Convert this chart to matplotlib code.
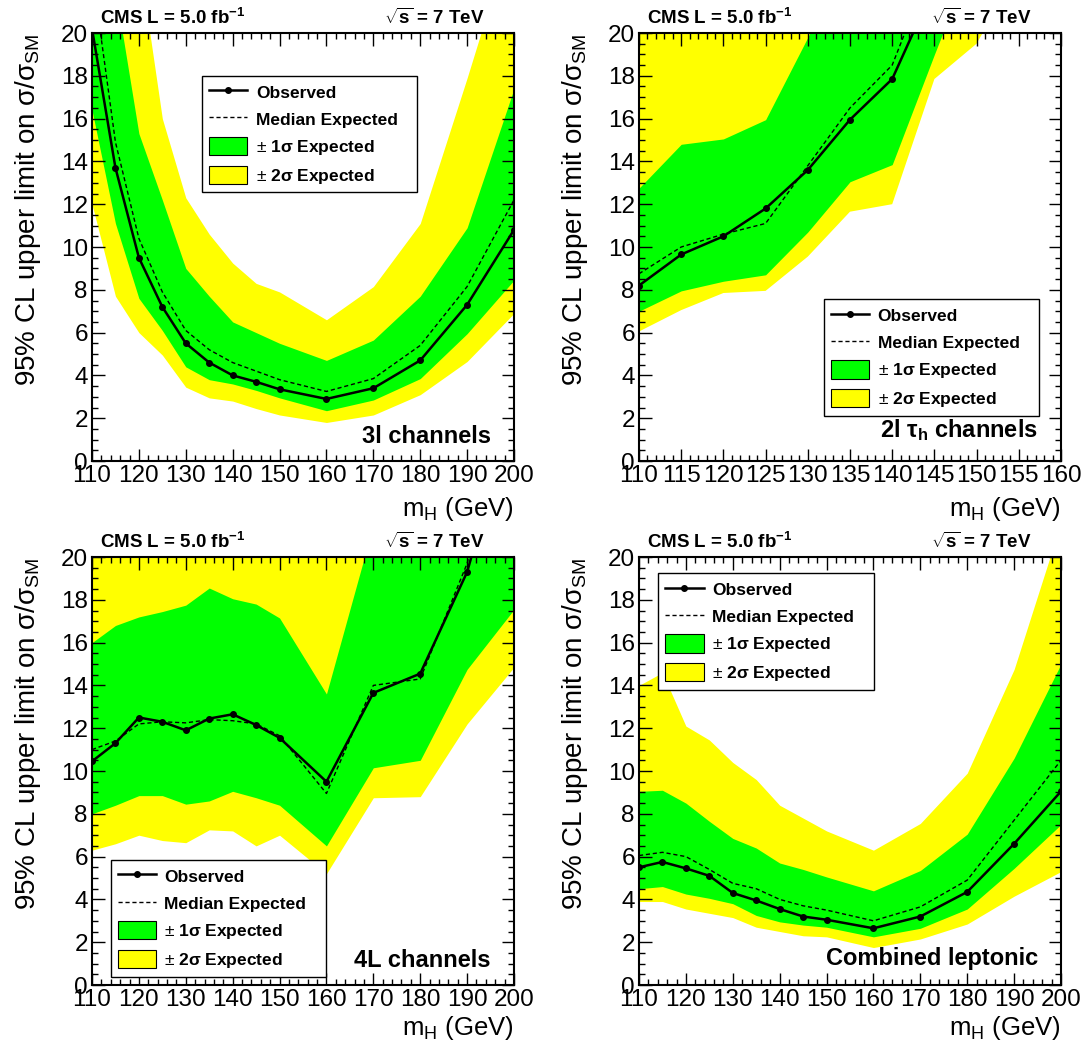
import matplotlib
matplotlib.use("Agg")
import matplotlib.pyplot as plt
from matplotlib.ticker import MultipleLocator
from matplotlib.lines import Line2D
from matplotlib.patches import Patch

plt.rcParams['font.family'] = ['Liberation Sans', 'DejaVu Sans']
plt.rcParams['mathtext.fontset'] = 'custom'
plt.rcParams['mathtext.rm'] = 'Liberation Sans'
plt.rcParams['mathtext.it'] = 'Liberation Sans:italic'
plt.rcParams['mathtext.bf'] = 'Liberation Sans:bold'

# 3l channels
mass_3l = [110, 115, 120, 125, 130, 135, 140, 145, 150, 160, 170, 180, 190, 200]
obs_3l = [20.2, 13.7, 9.5, 7.2, 5.5, 4.6, 4.0, 3.7, 3.35, 2.9, 3.4, 4.7, 7.3, 10.8]
exp_3l = [22.9, 14.9, 10.4, 7.9, 6.1, 5.2, 4.6, 4.2, 3.8, 3.25, 3.85, 5.4, 8.15, 12.2]
g_lo_3l = [16.4, 11.1, 7.6, 6.1, 4.4, 3.8, 3.6, 3.3, 2.95, 2.35, 2.85, 3.85, 5.95, 8.45]
g_hi_3l = [30.0, 22.0, 15.3, 12.2, 9.0, 7.7, 6.5, 6.0, 5.5, 4.7, 5.65, 7.7, 10.9, 17.4]
y_lo_3l = [12.0, 7.7, 6.0, 4.95, 3.45, 2.95, 2.8, 2.45, 2.15, 1.8, 2.15, 3.1, 4.65, 6.9]
y_hi_3l = [34.0, 28.0, 23.5, 16.0, 12.3, 10.6, 9.25, 8.3, 7.9, 6.6, 8.15, 11.1, 17.9, 25.0]

# 2l tau_h channels
mass_2lt = [110, 115, 120, 125, 130, 135, 140, 145, 150, 155, 160]
obs_2lt = [8.2, 9.65, 10.5, 11.8, 13.6, 15.95, 17.85, 22.2, 25.0, 28.0, 31.0]
exp_2lt = [8.75, 10.0, 10.6, 11.1, 13.8, 16.5, 18.5, 23.5, 26.0, 29.0, 32.0]
g_lo_2lt = [7.0, 7.95, 8.4, 8.7, 10.7, 13.05, 13.85, 19.0, 24.0, 27.0, 30.0]
g_hi_2lt = [12.75, 14.8, 15.05, 15.95, 19.8, 24.0, 27.0, 32.0, 36.0, 40.0, 44.0]
y_lo_2lt = [6.05, 7.05, 7.85, 7.95, 9.55, 11.65, 12.0, 17.85, 19.5, 23.0, 27.0]
y_hi_2lt = [24.0, 25.0, 26.0, 27.0, 29.0, 32.0, 36.0, 42.0, 48.0, 54.0, 60.0]

# 4L channels
mass_4l = [110, 115, 120, 125, 130, 135, 140, 145, 150, 160, 170, 180, 190, 200]
obs_4l = [10.45, 11.3, 12.5, 12.3, 11.9, 12.45, 12.65, 12.15, 11.55, 9.5, 13.65, 14.55, 19.3, 27.0]
exp_4l = [11.0, 11.4, 12.2, 12.3, 12.25, 12.4, 12.35, 12.2, 11.65, 8.95, 14.0, 14.3, 19.7, 28.0]
g_lo_4l = [8.0, 8.4, 8.85, 8.85, 8.45, 8.6, 9.05, 8.75, 8.4, 6.5, 10.15, 10.5, 14.75, 17.55]
g_hi_4l = [16.0, 16.8, 17.2, 17.45, 17.75, 18.55, 18.05, 17.8, 17.15, 13.6, 21.5, 26.0, 30.0, 34.0]
y_lo_4l = [6.3, 6.6, 7.0, 6.75, 6.65, 7.25, 7.2, 6.5, 7.0, 5.2, 8.75, 8.8, 12.2, 14.85]
y_hi_4l = [25.0, 25.0, 25.0, 25.0, 25.0, 25.0, 25.0, 25.0, 25.0, 25.0, 30.0, 34.0, 38.0, 42.0]

# Combined leptonic
mass_comb = [110, 115, 120, 125, 130, 135, 140, 145, 150, 160, 170, 180, 190, 200]
obs_comb = [5.5, 5.75, 5.45, 5.1, 4.3, 3.95, 3.55, 3.2, 3.05, 2.65, 3.2, 4.35, 6.6, 9.05]
exp_comb = [6.05, 6.2, 6.0, 5.4, 4.75, 4.5, 4.0, 3.7, 3.5, 3.0, 3.65, 4.9, 7.7, 10.5]
g_lo_comb = [4.5, 4.6, 4.25, 4.05, 3.8, 3.25, 2.95, 2.8, 2.7, 2.25, 2.65, 3.55, 5.45, 7.5]
g_hi_comb = [9.05, 9.1, 8.5, 7.65, 6.85, 6.4, 5.7, 5.4, 5.05, 4.4, 5.35, 7.05, 10.6, 15.0]
y_lo_comb = [3.9, 3.9, 3.55, 3.35, 3.15, 2.7, 2.5, 2.3, 2.25, 1.75, 2.15, 2.85, 4.15, 5.3]
y_hi_comb = [14.0, 14.6, 12.1, 11.45, 10.4, 9.6, 8.4, 7.8, 7.2, 6.3, 7.55, 9.9, 14.75, 21.6]

GREEN = '#00ff00'
YELLOW = '#ffff00'

fig = plt.figure(figsize=(10.81, 10.43), dpi=100)

W, H = 1081.0, 1043.0


def make_axes(px_left, px_top):
    return fig.add_axes([px_left / W, 1 - (px_top + 428) / H, 422 / W, 428 / H])


panels = [
    dict(ax=make_axes(92, 33), m=mass_3l, obs=obs_3l, exp=exp_3l, glo=g_lo_3l, ghi=g_hi_3l,
         ylo=y_lo_3l, yhi=y_hi_3l, xr=(110, 200), maj=10, mnr=2, xl_y=-0.080,
         leg=(0.261, 0.900), label='3l channels', lab_y=0.042),
    dict(ax=make_axes(639, 33), m=mass_2lt, obs=obs_2lt, exp=exp_2lt, glo=g_lo_2lt, ghi=g_hi_2lt,
         ylo=y_lo_2lt, yhi=y_hi_2lt, xr=(110, 160), maj=5, mnr=1, xl_y=-0.080,
         leg=(0.438, 0.378), label=r'2l $\mathbf{\tau_h}$ channels', lab_y=0.055),
    dict(ax=make_axes(92, 557), m=mass_4l, obs=obs_4l, exp=exp_4l, glo=g_lo_4l, ghi=g_hi_4l,
         ylo=y_lo_4l, yhi=y_hi_4l, xr=(110, 200), maj=10, mnr=2, xl_y=-0.068,
         leg=(0.044, 0.292), label='4L channels', lab_y=0.043),
    dict(ax=make_axes(639, 557), m=mass_comb, obs=obs_comb, exp=exp_comb, glo=g_lo_comb, ghi=g_hi_comb,
         ylo=y_lo_comb, yhi=y_hi_comb, xr=(110, 200), maj=10, mnr=2, xl_y=-0.068,
         leg=(0.046, 0.962), label='Combined leptonic', lab_y=0.047),
]

handles = [
    Line2D([], [], color='black', lw=1.8, marker='o', markersize=4),
    Line2D([], [], color='black', lw=1.0, dashes=(3, 2)),
    Patch(facecolor=GREEN, edgecolor='black', lw=0.8),
    Patch(facecolor=YELLOW, edgecolor='black', lw=0.8),
]
labels = ['Observed', 'Median Expected', r'$\pm$ 1σ Expected', r'$\pm$ 2σ Expected']

for p in panels:
    ax = p['ax']
    ax.fill_between(p['m'], p['ylo'], p['yhi'], color=YELLOW, lw=0)
    ax.fill_between(p['m'], p['glo'], p['ghi'], color=GREEN, lw=0)
    ax.plot(p['m'], p['exp'], color='black', lw=1.0, dashes=(3, 2))
    ax.plot(p['m'], p['obs'], color='black', lw=1.8, marker='o', markersize=4)

    ax.set_xlim(*p['xr'])
    ax.set_ylim(0, 20)
    ax.xaxis.set_major_locator(MultipleLocator(p['maj']))
    ax.xaxis.set_minor_locator(MultipleLocator(p['mnr']))
    ax.yaxis.set_major_locator(MultipleLocator(2))
    ax.yaxis.set_minor_locator(MultipleLocator(0.5))
    ax.tick_params(which='both', direction='in', top=True, right=True, width=1.0,
                   labelsize=17.5, pad=3)
    ax.tick_params(which='major', length=9)
    ax.tick_params(which='minor', length=4.5)
    for s in ax.spines.values():
        s.set_linewidth(1.5)

    ax.set_ylabel('95% CL upper limit on σ/σ$_{\\mathrm{SM}}$', fontsize=20, loc='top')
    ax.yaxis.set_label_coords(-0.116, 1.0)
    ax.set_xlabel('m$_{\\mathrm{H}}$ (GeV)', fontsize=18.5, loc='right')
    ax.xaxis.set_label_coords(1.0, p['xl_y'])

    ax.text(0.02, 1.012, r'CMS L = 5.0 fb$^{\mathbf{-1}}$', transform=ax.transAxes,
            fontsize=13.5, fontweight='bold', ha='left', va='bottom')
    ax.text(0.93, 1.012, r'$\sqrt{\mathbf{s}}$ = 7 TeV', transform=ax.transAxes,
            fontsize=13.5, fontweight='bold', ha='right', va='bottom')
    ax.text(0.945, p['lab_y'], p['label'], transform=ax.transAxes,
            fontsize=17, fontweight='bold', ha='right', va='baseline')

    leg = ax.legend(handles, labels, loc='upper left',
                    bbox_to_anchor=(p['leg'][0], p['leg'][1], 0.51, 0.0),
                    mode='expand', borderaxespad=0, fancybox=False, framealpha=1,
                    edgecolor='black', prop={'weight': 'bold', 'size': 12.5},
                    handlelength=2.2, handleheight=1.25, handletextpad=0.5,
                    labelspacing=0.5, borderpad=0.4, numpoints=1)
    leg.get_frame().set_linewidth(1.0)

fig.savefig('out.png', dpi=100)
